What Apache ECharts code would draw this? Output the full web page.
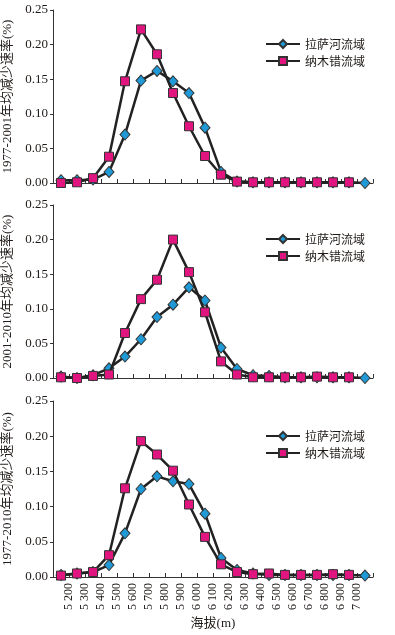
<!DOCTYPE html>
<html>
<head>
<meta charset="utf-8">
<script src="https://cdn.jsdelivr.net/npm/echarts@6/dist/echarts.min.js"></script>
<style>
  html, body { margin: 0; padding: 0; background: #fff; }
  #main { width: 395px; height: 635px; }
</style>
</head>
<body>
<div id="main"></div>
<script>
// 海拔分带下限 (m)，每带 100 m
var bandStart = [5100, 5200, 5300, 5400, 5500, 5600, 5700, 5800, 5900, 6000,
                 6100, 6200, 6300, 6400, 6500, 6600, 6700, 6800, 6900, 7000];
var seriesNames = ["拉萨河流域", "纳木错流域"];
var panelNames = ["1977-2001年均减少速率(%)", "2001-2010年均减少速率(%)", "1977-2010年均减少速率(%)"];
var yTicks = [0, 0.05, 0.10, 0.15, 0.20, 0.25];

// 1977-2001
var lhasa1 = [0.004, 0.004, 0.005, 0.016, 0.070, 0.148, 0.162, 0.147, 0.130, 0.080,
              0.016, 0.002, 0.001, 0.001, 0.001, 0.001, 0.001, 0.001, 0.001, 0.000];
var namco1 = [0.000, 0.001, 0.007, 0.038, 0.147, 0.222, 0.186, 0.130, 0.082, 0.039,
              0.012, 0.002, 0.001, 0.001, 0.001, 0.001, 0.001, 0.001, 0.001, null];
// 2001-2010
var lhasa2 = [0.002, 0.000, 0.004, 0.014, 0.031, 0.056, 0.088, 0.106, 0.131, 0.112,
              0.044, 0.013, 0.004, 0.003, 0.001, 0.001, 0.001, 0.001, 0.001, 0.000];
var namco2 = [0.001, 0.000, 0.003, 0.005, 0.065, 0.114, 0.142, 0.200, 0.153, 0.095,
              0.024, 0.005, 0.001, 0.001, 0.001, 0.001, 0.002, 0.001, 0.001, null];
// 1977-2010
var lhasa3 = [0.003, 0.005, 0.007, 0.017, 0.062, 0.125, 0.143, 0.136, 0.132, 0.090,
              0.027, 0.010, 0.005, 0.003, 0.003, 0.003, 0.003, 0.003, 0.003, 0.002];
var namco3 = [0.002, 0.005, 0.007, 0.031, 0.126, 0.193, 0.174, 0.151, 0.103, 0.057,
              0.018, 0.007, 0.004, 0.005, 0.003, 0.003, 0.003, 0.004, 0.003, null];

var panels = [[lhasa1, namco1], [lhasa2, namco2], [lhasa3, namco3]];

var serifFont = "'Liberation Serif', 'Noto Sans CJK SC', serif";
var textColor = "#1f1a17";

// 带中点作为 x 坐标
function toPoints(vals) {
  return vals.map(function (v, i) {
    return [bandStart[i] + 50, v == null ? "-" : v];
  });
}

var grids = [
  { left: 53, top: 10, width: 320, height: 173, outerBoundsMode: "none" },
  { left: 53, top: 205, width: 320, height: 173, outerBoundsMode: "none" },
  { left: 53, top: 401, width: 320, height: 176, outerBoundsMode: "none" }
];

var xAxes = [], yAxes = [], series = [], legends = [];
var legendTops = [33, 228, 425];

grids.forEach(function (g, k) {
  var isLast = k === grids.length - 1;
  xAxes.push({
    gridIndex: k,
    type: "value",
    min: 5100,
    max: 7100,
    interval: 100,
    splitLine: { show: false },
    axisLine: { lineStyle: { color: "#333", width: 1 } },
    axisTick: { show: true, inside: true, length: 4, lineStyle: { color: "#333" } },
    axisLabel: {
      show: isLast,
      rotate: 90,
      margin: 6,
      fontFamily: serifFont,
      fontSize: 12,
      color: textColor,
      formatter: function (v) {
        if (v <= 5100 || v >= 7100) return "";
        var s = String(v);
        return s.charAt(0) + " " + s.slice(1);
      }
    },
    name: isLast ? "海拔(m)" : "",
    nameLocation: "middle",
    nameGap: 40,
    nameTextStyle: { fontFamily: serifFont, fontSize: 13, color: textColor }
  });
  yAxes.push({
    gridIndex: k,
    type: "value",
    min: yTicks[0],
    max: yTicks[yTicks.length - 1],
    interval: 0.05,
    splitLine: { show: false },
    axisLine: { show: true, lineStyle: { color: "#333", width: 1 } },
    axisTick: { show: true, length: 3, lineStyle: { color: "#333" } },
    axisLabel: {
      fontFamily: serifFont,
      fontSize: 13,
      color: textColor,
      margin: 5,
      formatter: function (v) { return v.toFixed(2); }
    },
    name: panelNames[k],
    nameLocation: "middle",
    nameRotate: 90,
    nameGap: 31,
    nameTextStyle: { fontFamily: serifFont, fontSize: 13, color: textColor }
  });
  series.push({
    name: seriesNames[0],
    type: "line",
    xAxisIndex: k,
    yAxisIndex: k,
    data: toPoints(panels[k][0]),
    symbol: "diamond",
    symbolSize: [10, 11],
    lineStyle: { color: "#222", width: 2.5 },
    itemStyle: { color: "#1f9ad6", borderColor: "#333", borderWidth: 1 },
    z: 2
  });
  series.push({
    name: seriesNames[1],
    type: "line",
    xAxisIndex: k,
    yAxisIndex: k,
    data: toPoints(panels[k][1]),
    symbol: "rect",
    symbolSize: 9,
    lineStyle: { color: "#222", width: 2.5 },
    itemStyle: { color: "#e0157f", borderColor: "#333", borderWidth: 1 },
    z: 3
  });
  legends.push({
    data: seriesNames,
    orient: "vertical",
    left: 260,
    top: legendTops[k],
    itemWidth: 34,
    itemHeight: 10,
    itemGap: 5,
    textStyle: { fontFamily: "'Noto Sans CJK SC'", fontSize: 12, color: textColor }
  });
});

var chart = echarts.init(document.getElementById("main"));
chart.setOption({
  animation: false,
  backgroundColor: "#fff",
  grid: grids,
  xAxis: xAxes,
  yAxis: yAxes,
  legend: legends,
  series: series
});
</script>
</body>
</html>
